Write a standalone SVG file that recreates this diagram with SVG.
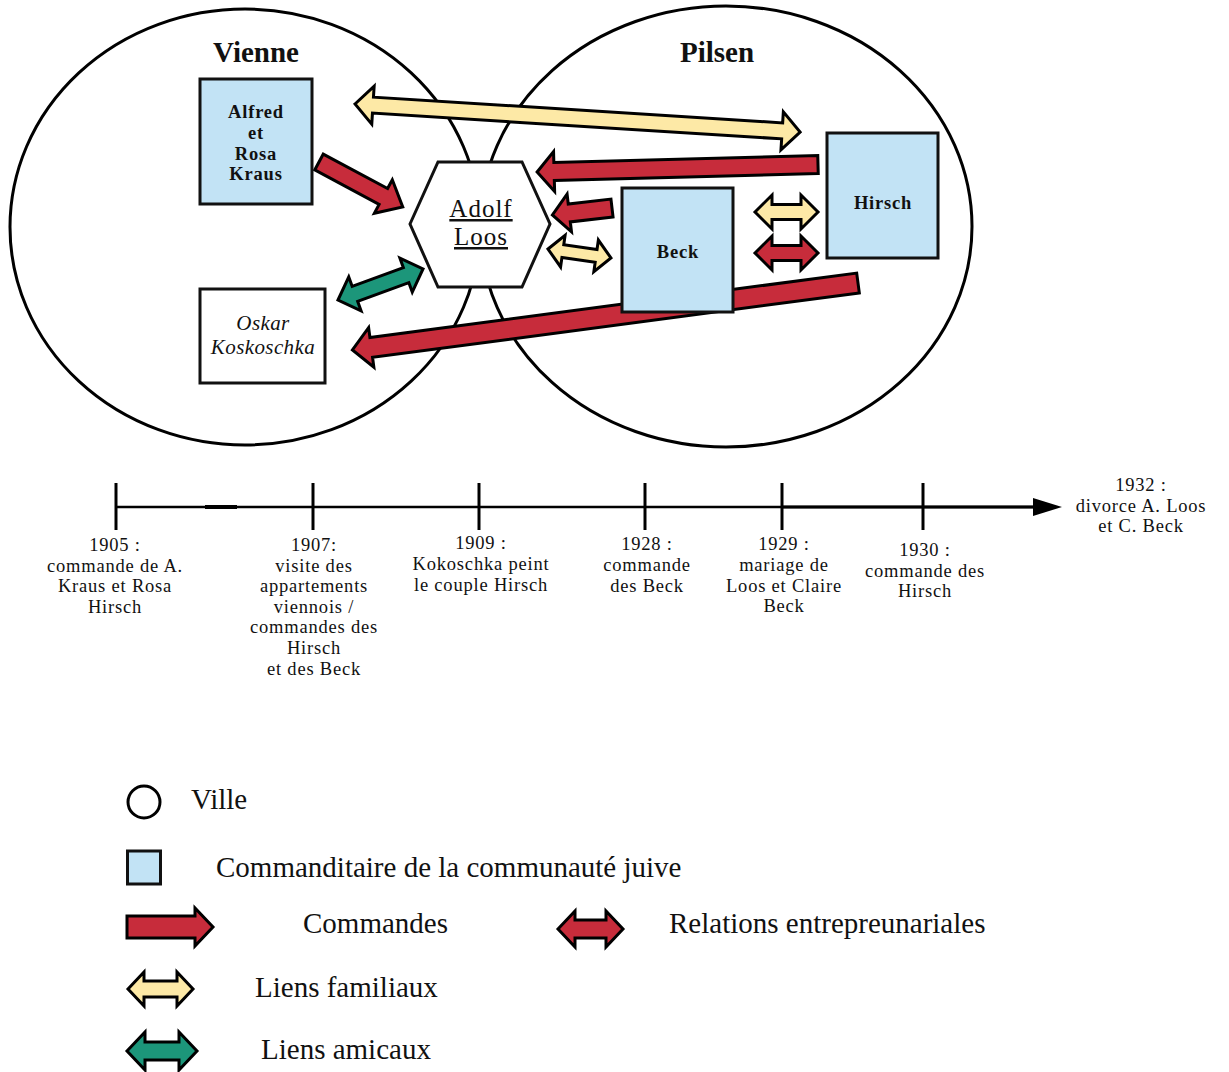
<svg xmlns="http://www.w3.org/2000/svg" width="1229" height="1072" viewBox="0 0 1229 1072">
<style>
text{font-family:"Liberation Serif","DejaVu Serif",serif;fill:#111}
.city{fill:none;stroke:#000;stroke-width:3}
.box{fill:#c2e3f5;stroke:#111;stroke-width:3}
.wbox{fill:#fff;stroke:#111;stroke-width:3}
.red{fill:#c72c3b;stroke:#000;stroke-width:3;stroke-linejoin:miter}
.yel{fill:#fde9a6;stroke:#000;stroke-width:3}
.grn{fill:#1c967a;stroke:#000;stroke-width:3}
.title{font-size:29px;font-weight:bold;text-anchor:middle}
.bt{font-size:18.5px;font-weight:bold;text-anchor:middle;letter-spacing:0.8px}
.tl{font-size:18.5px;text-anchor:middle;letter-spacing:0.8px}
.lg{font-size:29px}
.axis{stroke:#000;stroke-width:2.5;fill:none}
.tick{stroke:#000;stroke-width:3}
</style>

<g id="vienne">
<ellipse class="city" cx="245" cy="227" rx="235" ry="218"/>
<text class="title" x="256" y="62">Vienne</text>
</g>
<g id="pilsen">
<ellipse class="city" cx="726" cy="226.5" rx="246" ry="220.5"/>
<text class="title" x="717" y="62">Pilsen</text>
</g>

<g id="loos">
<polygon points="410,224 438,162 522,162 550,224 522,287 438,287" fill="#fff" stroke="#111" stroke-width="3"/>
<text x="481" y="217" font-size="25" letter-spacing="1" text-anchor="middle" text-decoration="underline">Adolf</text>
<text x="481" y="245" font-size="25" letter-spacing="1" text-anchor="middle" text-decoration="underline">Loos</text>
</g>

<g id="connectors">
<path class="yel" transform="translate(355,104) rotate(3.6)" d="M0,0 L18,-19 L18,-8 L428,-8 L428,-19 L446,0 L428,19 L428,8 L18,8 L18,19 Z"/>
<path class="red" transform="translate(818,164.5) rotate(178.47)" d="M0,-9 L264,-9 L264,-20 L281,0 L264,20 L264,9 L0,9 Z"/>
<path class="red" transform="translate(319,162) rotate(28.18)" d="M0,-9 L73,-9 L73,-19 L95,0 L73,19 L73,9 L0,9 Z"/>
<path class="red" transform="translate(612,208) rotate(173.35)" d="M0,-9 L43,-9 L43,-19 L60,0 L43,19 L43,9 L0,9 Z"/>
<path class="yel" transform="translate(548,249) rotate(8.13)" d="M0,0 L15,-16 L15,-6.5 L48.6,-6.5 L48.6,-16 L63.6,0 L48.6,16 L48.6,6.5 L15,6.5 L15,16 Z"/>
<path class="grn" transform="translate(338,300) rotate(-20.04)" d="M0,0 L18,-18 L18,-8 L72.5,-8 L72.5,-18 L90.5,0 L72.5,18 L72.5,8 L18,8 L18,18 Z"/>
<path class="red" transform="translate(858,283) rotate(172.46)" d="M0,-10 L491,-10 L491,-20 L510,0 L491,20 L491,10 L0,10 Z"/>
<path class="yel" transform="translate(755,212)" d="M0,0 L17,-17 L17,-7.5 L46,-7.5 L46,-17 L63,0 L46,17 L46,7.5 L17,7.5 L17,17 Z"/>
<path class="red" transform="translate(755,253)" d="M0,0 L17,-17 L17,-7.5 L46,-7.5 L46,-17 L63,0 L46,17 L46,7.5 L17,7.5 L17,17 Z"/>
</g>

<g id="kraus">
<rect class="box" x="200" y="79" width="112" height="125"/>
<text class="bt" x="256" y="118">Alfred</text>
<text class="bt" x="256" y="139">et</text>
<text class="bt" x="256" y="160">Rosa</text>
<text class="bt" x="256" y="180">Kraus</text>
</g>
<g id="kokoschka">
<rect class="wbox" x="200" y="289" width="125" height="94"/>
<text x="263" y="330" font-size="21" letter-spacing="0.4" font-style="italic" text-anchor="middle">Oskar</text>
<text x="263" y="354" font-size="21" letter-spacing="0.4" font-style="italic" text-anchor="middle">Koskoschka</text>
</g>
<g id="beck">
<rect class="box" x="622" y="188" width="111" height="124"/>
<text class="bt" x="678" y="258" font-size="20">Beck</text>
</g>
<g id="hirsch">
<rect class="box" x="827" y="133" width="111" height="125"/>
<text class="bt" x="883" y="209" font-size="20">Hirsch</text>
</g>

<g id="timeline">
<line class="axis" x1="116" y1="507" x2="1036" y2="507"/>
<line x1="205" y1="507" x2="237" y2="507" stroke="#000" stroke-width="4"/>
<line x1="782" y1="507" x2="1036" y2="507" stroke="#000" stroke-width="3.2"/>
<polygon points="1033,498 1062,507 1033,516" fill="#000"/>
<line class="tick" x1="116" y1="483" x2="116" y2="530"/>
<line class="tick" x1="313" y1="483" x2="313" y2="530"/>
<line class="tick" x1="479" y1="483" x2="479" y2="530"/>
<line class="tick" x1="645" y1="483" x2="645" y2="530"/>
<line class="tick" x1="782" y1="483" x2="782" y2="530"/>
<line class="tick" x1="923" y1="483" x2="923" y2="530"/>
</g>

<g id="t1905">
<text class="tl" x="115" y="551">1905 :</text>
<text class="tl" x="115" y="572">commande de A.</text>
<text class="tl" x="115" y="592">Kraus et Rosa</text>
<text class="tl" x="115" y="613">Hirsch</text>
</g>
<g id="t1907">
<text class="tl" x="314" y="551">1907:</text>
<text class="tl" x="314" y="572">visite des</text>
<text class="tl" x="314" y="592">appartements</text>
<text class="tl" x="314" y="613">viennois /</text>
<text class="tl" x="314" y="633">commandes des</text>
<text class="tl" x="314" y="654">Hirsch</text>
<text class="tl" x="314" y="675">et des Beck</text>
</g>
<g id="t1909">
<text class="tl" x="481" y="549">1909 :</text>
<text class="tl" x="481" y="570">Kokoschka peint</text>
<text class="tl" x="481" y="591">le couple Hirsch</text>
</g>
<g id="t1928">
<text class="tl" x="647" y="550">1928 :</text>
<text class="tl" x="647" y="571">commande</text>
<text class="tl" x="647" y="592">des Beck</text>
</g>
<g id="t1929">
<text class="tl" x="784" y="550">1929 :</text>
<text class="tl" x="784" y="571">mariage de</text>
<text class="tl" x="784" y="592">Loos et Claire</text>
<text class="tl" x="784" y="612">Beck</text>
</g>
<g id="t1930">
<text class="tl" x="925" y="556">1930 :</text>
<text class="tl" x="925" y="577">commande des</text>
<text class="tl" x="925" y="597">Hirsch</text>
</g>
<g id="t1932">
<text class="tl" x="1141" y="491">1932 :</text>
<text class="tl" x="1141" y="512">divorce A. Loos</text>
<text class="tl" x="1141" y="532">et C. Beck</text>
</g>

<g id="legend">
<circle cx="144" cy="802" r="16" fill="#fff" stroke="#000" stroke-width="3"/>
<text class="lg" x="191" y="809">Ville</text>
<rect class="box" x="127.5" y="851" width="33" height="33"/>
<text class="lg" x="216" y="877">Commanditaire de la communauté juive</text>
<path class="red" transform="translate(127,927)" d="M0,-11 L68,-11 L68,-19 L86,0 L68,19 L68,11 L0,11 Z"/>
<text class="lg" x="303" y="933">Commandes</text>
<path class="red" transform="translate(558,929)" d="M0,0 L17,-18 L17,-9 L48,-9 L48,-18 L65,0 L48,18 L48,9 L17,9 L17,18 Z"/>
<text class="lg" x="669" y="933">Relations entrepreunariales</text>
<path class="yel" transform="translate(128,989)" d="M0,0 L16,-17 L16,-8 L49,-8 L49,-17 L65,0 L49,17 L49,8 L16,8 L16,17 Z"/>
<text class="lg" x="255" y="997">Liens familiaux</text>
<path class="grn" transform="translate(127,1051)" d="M0,0 L18,-19 L18,-9 L52,-9 L52,-19 L70,0 L52,19 L52,9 L18,9 L18,19 Z"/>
<text class="lg" x="261" y="1059">Liens amicaux</text>
</g>
</svg>
